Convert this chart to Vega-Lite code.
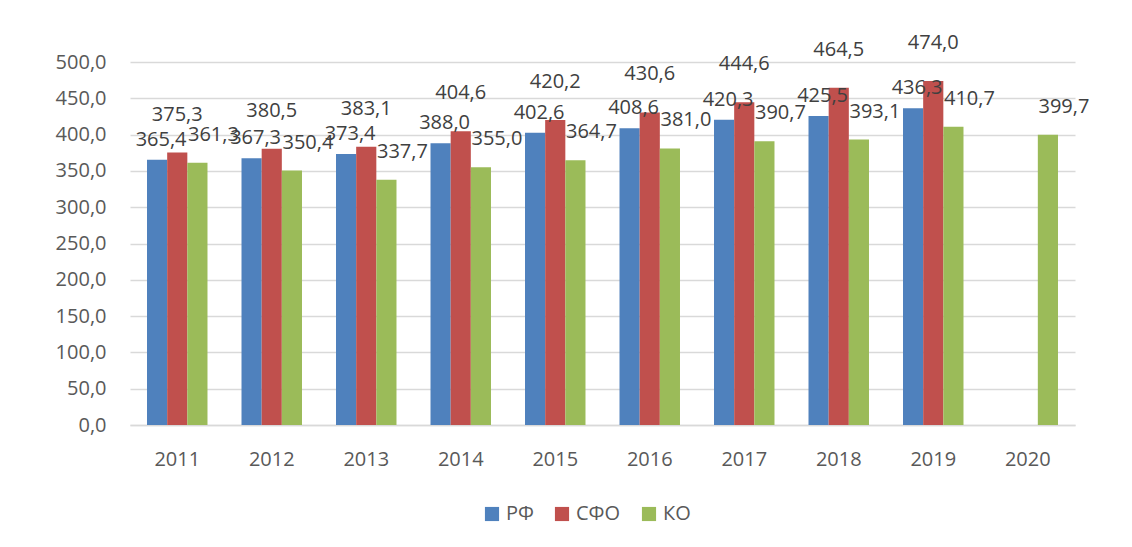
{
  "$schema": "https://vega.github.io/schema/vega-lite/v6.json",
  "autosize": "none",
  "width": 945,
  "height": 363,
  "padding": {"left": 130, "top": 62, "right": 57, "bottom": 122},
  "background": "white",
  "config": {
    "locale": {"number": {"decimal": ",", "thousands": " ", "grouping": [3], "currency": ["", ""]}},
    "font": "Open Sans",
    "view": {"stroke": null}
  },
  "data": {
    "values": [
      {"year": "2011", "series": "РФ", "value": 365.4},
      {"year": "2011", "series": "СФО", "value": 375.3},
      {"year": "2011", "series": "КО", "value": 361.3},
      {"year": "2012", "series": "РФ", "value": 367.3},
      {"year": "2012", "series": "СФО", "value": 380.5},
      {"year": "2012", "series": "КО", "value": 350.4},
      {"year": "2013", "series": "РФ", "value": 373.4},
      {"year": "2013", "series": "СФО", "value": 383.1},
      {"year": "2013", "series": "КО", "value": 337.7},
      {"year": "2014", "series": "РФ", "value": 388.0},
      {"year": "2014", "series": "СФО", "value": 404.6},
      {"year": "2014", "series": "КО", "value": 355.0},
      {"year": "2015", "series": "РФ", "value": 402.6},
      {"year": "2015", "series": "СФО", "value": 420.2},
      {"year": "2015", "series": "КО", "value": 364.7},
      {"year": "2016", "series": "РФ", "value": 408.6},
      {"year": "2016", "series": "СФО", "value": 430.6},
      {"year": "2016", "series": "КО", "value": 381.0},
      {"year": "2017", "series": "РФ", "value": 420.3},
      {"year": "2017", "series": "СФО", "value": 444.6},
      {"year": "2017", "series": "КО", "value": 390.7},
      {"year": "2018", "series": "РФ", "value": 425.5},
      {"year": "2018", "series": "СФО", "value": 464.5},
      {"year": "2018", "series": "КО", "value": 393.1},
      {"year": "2019", "series": "РФ", "value": 436.3},
      {"year": "2019", "series": "СФО", "value": 474.0},
      {"year": "2019", "series": "КО", "value": 410.7},
      {"year": "2020", "series": "КО", "value": 399.7}
    ]
  },
  "encoding": {
    "x": {
      "field": "year", "type": "nominal", "title": null,
      "scale": {"paddingInner": 0.36, "paddingOuter": 0.18},
      "axis": {"labelAngle": 0, "labelFontSize": 20, "labelColor": "#595959", "labelPadding": 24, "ticks": false, "domainColor": "#D9D9D9", "domainWidth": 1.5}
    },
    "xOffset": {"field": "series", "type": "nominal", "scale": {"domain": ["РФ", "СФО", "КО"]}},
    "y": {
      "field": "value", "type": "quantitative", "title": null,
      "scale": {"domain": [0, 500]},
      "axis": {"values": [0, 50, 100, 150, 200, 250, 300, 350, 400, 450, 500], "format": ".1f", "labelFontSize": 20, "labelColor": "#595959", "labelPadding": 24, "ticks": false, "domain": false, "gridColor": "#D9D9D9", "gridWidth": 1.5}
    }
  },
  "layer": [
    {
      "mark": {"type": "bar"},
      "encoding": {
        "color": {
          "field": "series", "type": "nominal",
          "scale": {"domain": ["РФ", "СФО", "КО"], "range": ["#4F81BD", "#C0504D", "#9BBB59"]},
          "legend": {"title": null, "orient": "none", "direction": "horizontal", "legendX": 352, "legendY": 442, "symbolType": "square", "symbolSize": 200, "symbolStrokeWidth": 0, "labelFontSize": 20, "labelColor": "#595959", "columnPadding": 18, "labelOffset": 4}
        }
      }
    },
    {
      "transform": [{"filter": "datum.series == 'РФ'"}],
      "mark": {"type": "text", "baseline": "middle", "dy": -20, "dx": 4, "fontSize": 20, "color": "#404040"},
      "encoding": {"text": {"field": "value", "type": "quantitative", "format": ".1f"}}
    },
    {
      "transform": [{"filter": "datum.series == 'СФО'"}],
      "mark": {"type": "text", "baseline": "middle", "dy": -38, "fontSize": 20, "color": "#404040"},
      "encoding": {"text": {"field": "value", "type": "quantitative", "format": ".1f"}}
    },
    {
      "transform": [{"filter": "datum.series == 'КО'"}],
      "mark": {"type": "text", "baseline": "middle", "dy": -28, "dx": 16, "fontSize": 20, "color": "#404040"},
      "encoding": {"text": {"field": "value", "type": "quantitative", "format": ".1f"}}
    }
  ]
}
